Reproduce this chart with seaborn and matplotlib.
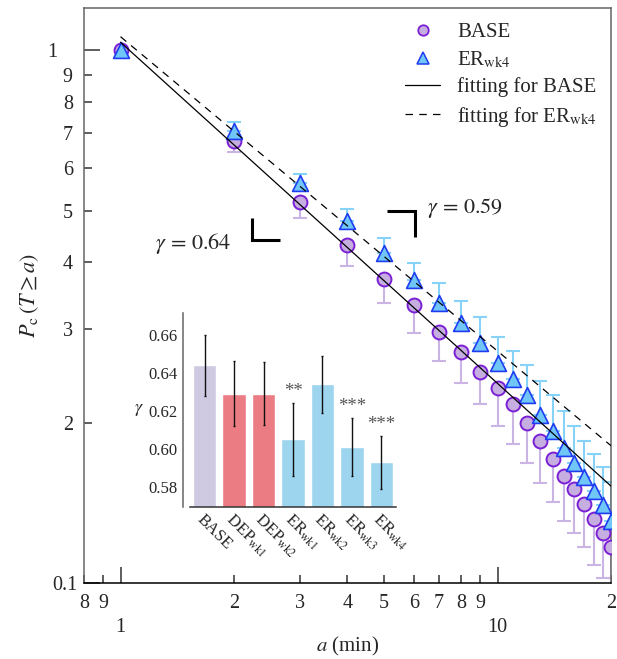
import numpy as np
import seaborn as sns
import matplotlib
matplotlib.use("Agg")
import matplotlib.pyplot as plt
from matplotlib.lines import Line2D
from matplotlib.ticker import FixedLocator, FixedFormatter

# data
a_min = [1, 2, 3, 4, 5, 6, 7, 8, 9, 10, 11, 12, 13, 14, 15, 16, 17, 18, 19, 20]
base_p = [1.0, 0.674, 0.519, 0.430, 0.372, 0.333, 0.296, 0.271, 0.249, 0.232,
          0.217, 0.200, 0.185, 0.171, 0.159, 0.150, 0.141, 0.132, 0.124, 0.117]
base_low = [1.0, 0.644, 0.484, 0.393, 0.336, 0.294, 0.261, 0.237, 0.217, 0.197,
            0.182, 0.168, 0.154, 0.142, 0.131, 0.124, 0.117, 0.108, 0.102, 0.098]
er_p = [1.0, 0.704, 0.563, 0.477, 0.416, 0.371, 0.336, 0.308, 0.282, 0.259,
        0.241, 0.225, 0.207, 0.193, 0.179, 0.168, 0.158, 0.149, 0.140, 0.131]
er_high = [1.0, 0.733, 0.586, 0.504, 0.445, 0.398, 0.365, 0.338, 0.315, 0.290,
           0.272, 0.257, 0.239, 0.225, 0.210, 0.197, 0.185, 0.175, 0.165, 0.155]

# fitted power laws (end points)
fit_a = [1, 20]
fit_base = [1.035, 0.152]
fit_er = [1.06, 0.181]

# inset: exponents per group
groups = ["BASE", r"DEP$_{\rm wk1}$", r"DEP$_{\rm wk2}$", r"ER$_{\rm wk1}$",
          r"ER$_{\rm wk2}$", r"ER$_{\rm wk3}$", r"ER$_{\rm wk4}$"]
gamma = [0.644, 0.629, 0.629, 0.605, 0.634, 0.601, 0.593]
gamma_err = [0.016, 0.017, 0.0165, 0.019, 0.015, 0.0153, 0.014]
stars = ["", "", "", "**", "", "***", "***"]
bar_colors = ["#cfc9e2", "#ec7c83", "#ec7c83", "#9dd4ee", "#9dd4ee", "#9dd4ee", "#9dd4ee"]

# tick labels
y_major = [0.1, 1]
y_major_lab = ["0.1", "1"]
y_minor = [0.2, 0.3, 0.4, 0.5, 0.6, 0.7, 0.8, 0.9]
y_minor_lab = ["2", "3", "4", "5", "6", "7", "8", "9"]
x_major = [1, 10]
x_major_lab = ["1", "10"]
x_minor = [0.8, 0.9, 2, 3, 4, 5, 6, 7, 8, 9, 20]
x_minor_lab = ["8", "9", "2", "3", "4", "5", "6", "7", "8", "9", "2"]

sns.set_style("ticks")
plt.rcParams["font.family"] = ["Liberation Serif", "DejaVu Serif"]
plt.rcParams["mathtext.fontset"] = "stix"

fig = plt.figure(figsize=(6.17, 6.59), dpi=100)
ax = fig.add_axes([0.1361, 0.1153, 0.8542, 0.8726])
ax.set_xscale("log")
ax.set_yscale("log")

a = np.array(a_min)
bp = np.array(base_p)
ep = np.array(er_p)
zeros = np.zeros(len(a))

ax.errorbar(a, bp, yerr=[bp - np.array(base_low), zeros], fmt="none",
            ecolor="#c9b4e4", elinewidth=1.5, capsize=4.8, capthick=1.5, zorder=2)
ax.errorbar(a, ep, yerr=[zeros, np.array(er_high) - ep], fmt="none",
            ecolor="#86d2f8", elinewidth=1.5, capsize=4.8, capthick=1.5, zorder=2)

sns.scatterplot(x=a_min, y=base_p, marker="o", s=100, color="#c6aee0",
                edgecolor="#7b1fd6", linewidth=1.4, ax=ax, zorder=3)
sns.scatterplot(x=a_min, y=er_p, marker="^", s=130, color="#6fc6f7",
                edgecolor="#1f3cf0", linewidth=1.2, ax=ax, zorder=4)

sns.lineplot(x=fit_a, y=fit_base, color="black", lw=0.9, ax=ax, zorder=5)
sns.lineplot(x=fit_a, y=fit_er, color="black", lw=0.9, ls=(0, (6, 5)), ax=ax, zorder=5)

ax.set_xlim(0.8, 20)
ax.set_ylim(0.1, 1.2)

ax.xaxis.set_major_locator(FixedLocator(x_major))
ax.xaxis.set_major_formatter(FixedFormatter(x_major_lab))
ax.xaxis.set_minor_locator(FixedLocator(x_minor))
ax.xaxis.set_minor_formatter(FixedFormatter(x_minor_lab))
ax.yaxis.set_major_locator(FixedLocator(y_major))
ax.yaxis.set_major_formatter(FixedFormatter(y_major_lab))
ax.yaxis.set_minor_locator(FixedLocator(y_minor))
ax.yaxis.set_minor_formatter(FixedFormatter(y_minor_lab))

ax.tick_params(which="both", direction="in", labelsize=14.5, width=1.1, color="#333333")
ax.tick_params(which="major", length=11.5)
ax.tick_params(which="minor", length=5.8)
ax.tick_params(axis="x", which="minor", pad=8)
ax.tick_params(axis="x", which="major", pad=25)
ax.tick_params(axis="y", which="minor", pad=8)
yt = ax.yaxis.get_major_ticks()
yt[0].set_pad(5)
yt[1].set_pad(19.5)

for side in ["left", "top", "right"]:
    ax.spines[side].set_color("#666666")
    ax.spines[side].set_linewidth(1.1)
ax.spines["bottom"].set_color("black")
ax.spines["bottom"].set_linewidth(1.1)

ax.set_xlabel(r"$a$ (min)", fontsize=15, labelpad=-1)
ax.set_ylabel(r"$P_{\rm c}\,(T \geq a)$", fontsize=16, labelpad=4)

# slope guides
ax.plot([0.3188, 0.3188, 0.3719], [0.6348, 0.5965, 0.5965], color="black", lw=2.2,
        transform=ax.transAxes, solid_capstyle="butt", solid_joinstyle="miter")
ax.plot([0.575, 0.628, 0.628], [0.647, 0.647, 0.6017], color="black", lw=2.2,
        transform=ax.transAxes, solid_capstyle="butt", solid_joinstyle="miter")
ax.text(0.207, 0.5896, r"$\gamma\,{=}\,0.64$", fontsize=16, ha="center", va="center",
        transform=ax.transAxes)
ax.text(0.651, 0.652, r"$\gamma\,{=}\,0.59$", fontsize=16, ha="left", va="center",
        transform=ax.transAxes)

handles = [
    Line2D([], [], ls="none", marker="o", ms=7.5, mfc="#c6aee0", mec="#7b1fd6", mew=1.3),
    Line2D([], [], ls="none", marker="^", ms=8.5, mfc="#6fc6f7", mec="#1f3cf0", mew=1.1),
    Line2D([], [], color="black", lw=0.9),
    Line2D([], [], color="black", lw=0.9, ls=(0, (6, 5))),
]
labels = ["BASE", r"ER$_{\rm wk4}$", "fitting for BASE", r"fitting for ER$_{\rm wk4}$"]
ax.legend(handles, labels, loc="upper right", frameon=False, fontsize=15,
          handlelength=1.7, handletextpad=0.8, labelspacing=0.35,
          borderaxespad=0.3, bbox_to_anchor=(1.0, 1.0))

# inset bar chart
ax_in = fig.add_axes([0.3079, 0.2307, 0.3339, 0.2944])
sns.barplot(x=list(range(len(groups))), y=gamma, hue=list(range(len(groups))),
            palette=bar_colors, saturation=1, legend=False, width=0.8, ax=ax_in, zorder=1)
ax_in.errorbar(range(len(groups)), gamma, yerr=gamma_err, fmt="none", ecolor="#111111",
               elinewidth=1.0, capsize=1.0, capthick=1.0, zorder=3)
for i, s in enumerate(stars):
    if s:
        ax_in.text(i, gamma[i] + gamma_err[i] + 0.0015, s, ha="center", va="bottom",
                   fontsize=13.5, color="#555555")
ax_in.set_xlim(-0.5, 6.5)
ax_in.set_ylim(0.5695, 0.6715)
ax_in.set_yticks([0.58, 0.60, 0.62, 0.64, 0.66])
ax_in.set_yticklabels(["0.58", "0.60", "0.62", "0.64", "0.66"])
ax_in.set_xticks(range(len(groups)))
ax_in.set_xticklabels(groups, rotation=-45, ha="left", va="top", rotation_mode="anchor")
ax_in.tick_params(length=0, labelsize=12)
ax_in.tick_params(axis="y", pad=4)
ax_in.tick_params(axis="x", pad=3)
ax_in.set_ylabel(r"$\gamma$", rotation=0, fontsize=13, labelpad=7, va="center")
ax_in.patch.set_alpha(0)
ax_in.spines["top"].set_visible(False)
ax_in.spines["right"].set_visible(False)
ax_in.spines["left"].set_position(("outward", 5))
ax_in.spines["left"].set_color("#666666")
ax_in.spines["left"].set_linewidth(1.1)
ax_in.spines["bottom"].set_color("#333333")
ax_in.spines["bottom"].set_linewidth(1.1)

fig.savefig("out.png", dpi=100)
